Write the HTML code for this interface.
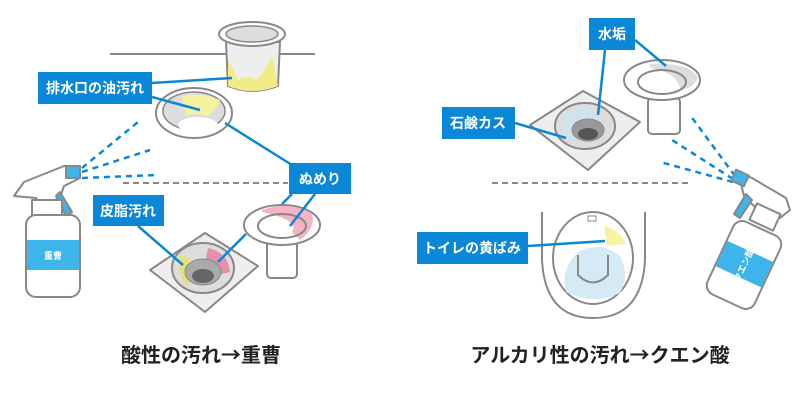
<!DOCTYPE html>
<html><head><meta charset="utf-8"><style>
body{margin:0;background:#fff;width:800px;height:400px;overflow:hidden}
svg{display:block}
text{font-family:"Liberation Sans","Noto Sans CJK JP",sans-serif;font-weight:bold}
.t{font-family:"Noto Sans CJK JP",sans-serif}
</style></head><body>
<svg width="800" height="400" viewBox="0 0 800 400" xmlns="http://www.w3.org/2000/svg">
<g fill="none" stroke="#888" stroke-width="2">
<line x1="110" y1="54" x2="315" y2="54"/>
<line x1="123" y1="183" x2="288" y2="183" stroke-dasharray="6,4"/>
<line x1="492" y1="183" x2="690" y2="183" stroke-dasharray="6,4"/>
</g>
<!-- basket -->
<path d="M226 42 L228 86 Q252 96 278 86 L280 42 Z" fill="#eee" stroke="#888" stroke-width="2"/>
<path d="M228 60 Q234 70 238 80 Q246 74 256 80 Q266 70 272 55 L278 86 Q252 96 228 86 Z" fill="#f0ec8a"/>
<ellipse cx="252" cy="34" rx="33" ry="12" fill="#fff" stroke="#888" stroke-width="2"/>
<ellipse cx="252" cy="34" rx="26" ry="8" fill="#ddd" stroke="#888" stroke-width="1.5"/>
<!-- ring drain -->
<ellipse cx="194" cy="113" rx="38" ry="25" fill="#fff" stroke="#888" stroke-width="2"/>
<ellipse cx="194" cy="111" rx="31" ry="19" fill="#ddd" stroke="#888" stroke-width="1.5"/>
<path d="M182 96 Q200 92 220 100 Q216 112 206 116 Q196 112 186 116 Z" fill="#f5f1a0"/>
<ellipse cx="198" cy="125" rx="20" ry="8" fill="#fff"/>
<!-- square drain left -->
<path d="M150 270 L205 233 L258 266 L205 312 Z" fill="#eee" stroke="#888" stroke-width="2" stroke-linejoin="round"/>
<ellipse cx="203" cy="268" rx="31" ry="25" fill="#ddd" stroke="#888" stroke-width="2"/>
<path d="M180 255 Q176 270 186 285 L192 280 Q186 268 190 258 Z" fill="#e6e07a"/>
<path d="M208 248 Q228 252 230 272 L214 276 Q212 262 206 258 Z" fill="#e58fa8"/>
<ellipse cx="203" cy="272" rx="18" ry="13" fill="#aaa" stroke="#888"/>
<ellipse cx="203" cy="276" rx="11" ry="7" fill="#666"/>
<!-- cup left -->
<rect x="267" y="238" width="30" height="40" rx="4" fill="#fff" stroke="#888" stroke-width="2"/>
<ellipse cx="282" cy="225" rx="38" ry="20" fill="#fff" stroke="#888" stroke-width="2"/>
<path d="M262 210 Q290 200 312 214 Q316 228 300 240 L292 232 Q300 220 262 212 Z" fill="#f5b3c4"/>
<ellipse cx="282" cy="226" rx="24" ry="12" fill="none" stroke="#888" stroke-width="2"/>
<!-- cup right -->
<rect x="648" y="98" width="32" height="36" rx="4" fill="#fff" stroke="#888" stroke-width="2"/>
<ellipse cx="662" cy="80" rx="38" ry="20" fill="#fff" stroke="#888" stroke-width="2"/>
<path d="M650 64 Q690 62 698 78 Q690 92 680 88 Q676 72 650 68 Z" fill="#ddd"/>
<ellipse cx="662" cy="82" rx="24" ry="12" fill="none" stroke="#888" stroke-width="2"/>
<!-- square drain right -->
<path d="M530 125 L583 91 L640 122 L588 170 Z" fill="#eee" stroke="#888" stroke-width="2" stroke-linejoin="round"/>
<ellipse cx="585" cy="126" rx="30" ry="23" fill="#ddd" stroke="#888" stroke-width="2"/>
<ellipse cx="580" cy="124" rx="18" ry="17" fill="#cfe4f0" opacity=".8"/>
<ellipse cx="588" cy="130" rx="16" ry="11" fill="#999" stroke="#888"/>
<ellipse cx="588" cy="134" rx="10" ry="6" fill="#555"/>
<!-- toilet -->
<path d="M542 212 L542 260 Q545 318 593 318 Q642 318 645 260 L645 212" fill="none" stroke="#888" stroke-width="2"/>
<ellipse cx="593" cy="258" rx="40" ry="46" fill="#fff" stroke="#888" stroke-width="2"/>
<path d="M566 292 Q560 270 578 252 Q600 240 620 256 Q630 275 620 293 Q593 306 566 292 Z" fill="#d6eaf6"/>
<path d="M604 226 Q618 228 626 244 L607 246 Z" fill="#f7f3a0"/>
<path d="M578 255 L578 275 Q593 290 608 275 L608 255" fill="none" stroke="#888" stroke-width="2"/>
<rect x="588" y="216" width="8" height="5" fill="#fff" stroke="#888"/>
<!-- spray left -->
<g stroke="#888" stroke-width="2" stroke-linejoin="round">
<path d="M14 196 L24 182 L64 166 L80 166 L80 178 L64 186 L60 198 L40 206 L36 198 Z" fill="#fff"/>
<rect x="66" y="166" width="14" height="12" fill="#3db4ea"/>
<path d="M60 192 L72 212 L66 216 L56 196 Z" fill="#3db4ea"/>
<rect x="32" y="200" width="30" height="16" fill="#fff"/>
<rect x="26" y="215" width="54" height="82" rx="10" fill="#fff"/>
<rect x="27" y="240" width="52" height="30" fill="#3db4ea" stroke="none"/>
</g>
<text x="53" y="259" font-size="9" fill="#fff" text-anchor="middle">重曹</text>
<g stroke="#0a87d6" stroke-width="2.5" stroke-dasharray="6,5" fill="none">
<line x1="82" y1="168" x2="138" y2="122"/><line x1="82" y1="172" x2="150" y2="150"/><line x1="82" y1="178" x2="157" y2="175"/>
<line x1="735" y1="176" x2="690" y2="115"/><line x1="733" y1="179" x2="672" y2="140"/><line x1="733" y1="182" x2="660" y2="162"/>
</g>
<!-- spray right -->
<g stroke="#888" stroke-width="2" stroke-linejoin="round">
<path d="M738 172 L752 178 L786 198 L790 210 L780 218 L760 212 L744 196 Z" fill="#fff"/>
<rect x="733" y="172" width="14" height="12" fill="#3db4ea" transform="rotate(25 740 178)"/>
<path d="M746 194 L734 214 L740 218 L752 200 Z" fill="#3db4ea"/>
<rect x="752" y="208" width="26" height="18" fill="#fff" transform="rotate(25 765 217)"/>
<rect x="718" y="225" width="52" height="80" rx="10" fill="#fff" transform="rotate(25 744 265)"/>
<rect x="719" y="250" width="50" height="28" fill="#3db4ea" stroke="none" transform="rotate(25 744 265)"/>
</g>
<text x="744" y="268" font-size="9" fill="#fff" text-anchor="middle" transform="rotate(-65 744 265)">クエン酸</text>
<!-- connectors -->
<g stroke="#0a87d6" stroke-width="2.5" fill="none">
<line x1="152" y1="83" x2="232" y2="78"/>
<line x1="152" y1="97" x2="200" y2="110"/>
<line x1="225" y1="123" x2="292" y2="165"/>
<line x1="315" y1="194" x2="290" y2="226"/>
<line x1="292" y1="194" x2="282" y2="204"/>
<line x1="246" y1="234" x2="218" y2="262"/>
<line x1="138" y1="226" x2="183" y2="265"/>
<line x1="605" y1="50" x2="598" y2="115"/>
<line x1="635" y1="40" x2="666" y2="66"/>
<line x1="515" y1="123" x2="566" y2="138"/>
<line x1="528" y1="246" x2="605" y2="241"/>
</g>
<g fill="#0a87d6">
<rect x="38" y="72" width="114" height="32"/>
<rect x="289" y="163" width="62" height="31"/>
<rect x="93" y="195" width="71" height="31"/>
<rect x="589" y="18" width="46" height="32"/>
<rect x="442" y="107" width="73" height="32"/>
<rect x="417" y="232" width="111" height="32"/>
</g>
<g fill="#fff" font-size="14" text-anchor="middle">
<text x="95" y="93">排水口の油汚れ</text>
<text x="320" y="184">ぬめり</text>
<text x="128" y="216">皮脂汚れ</text>
<text x="612" y="39">水垢</text>
<text x="478" y="128">石鹸カス</text>
<text x="472" y="253">トイレの黄ばみ</text>
</g>
<g fill="#222" font-size="20" text-anchor="middle" class="t">
<text x="201" y="362" class="t">酸性の汚れ→重曹</text>
<text x="600" y="362" class="t">アルカリ性の汚れ→クエン酸</text>
</g>
</svg>
</body></html>
